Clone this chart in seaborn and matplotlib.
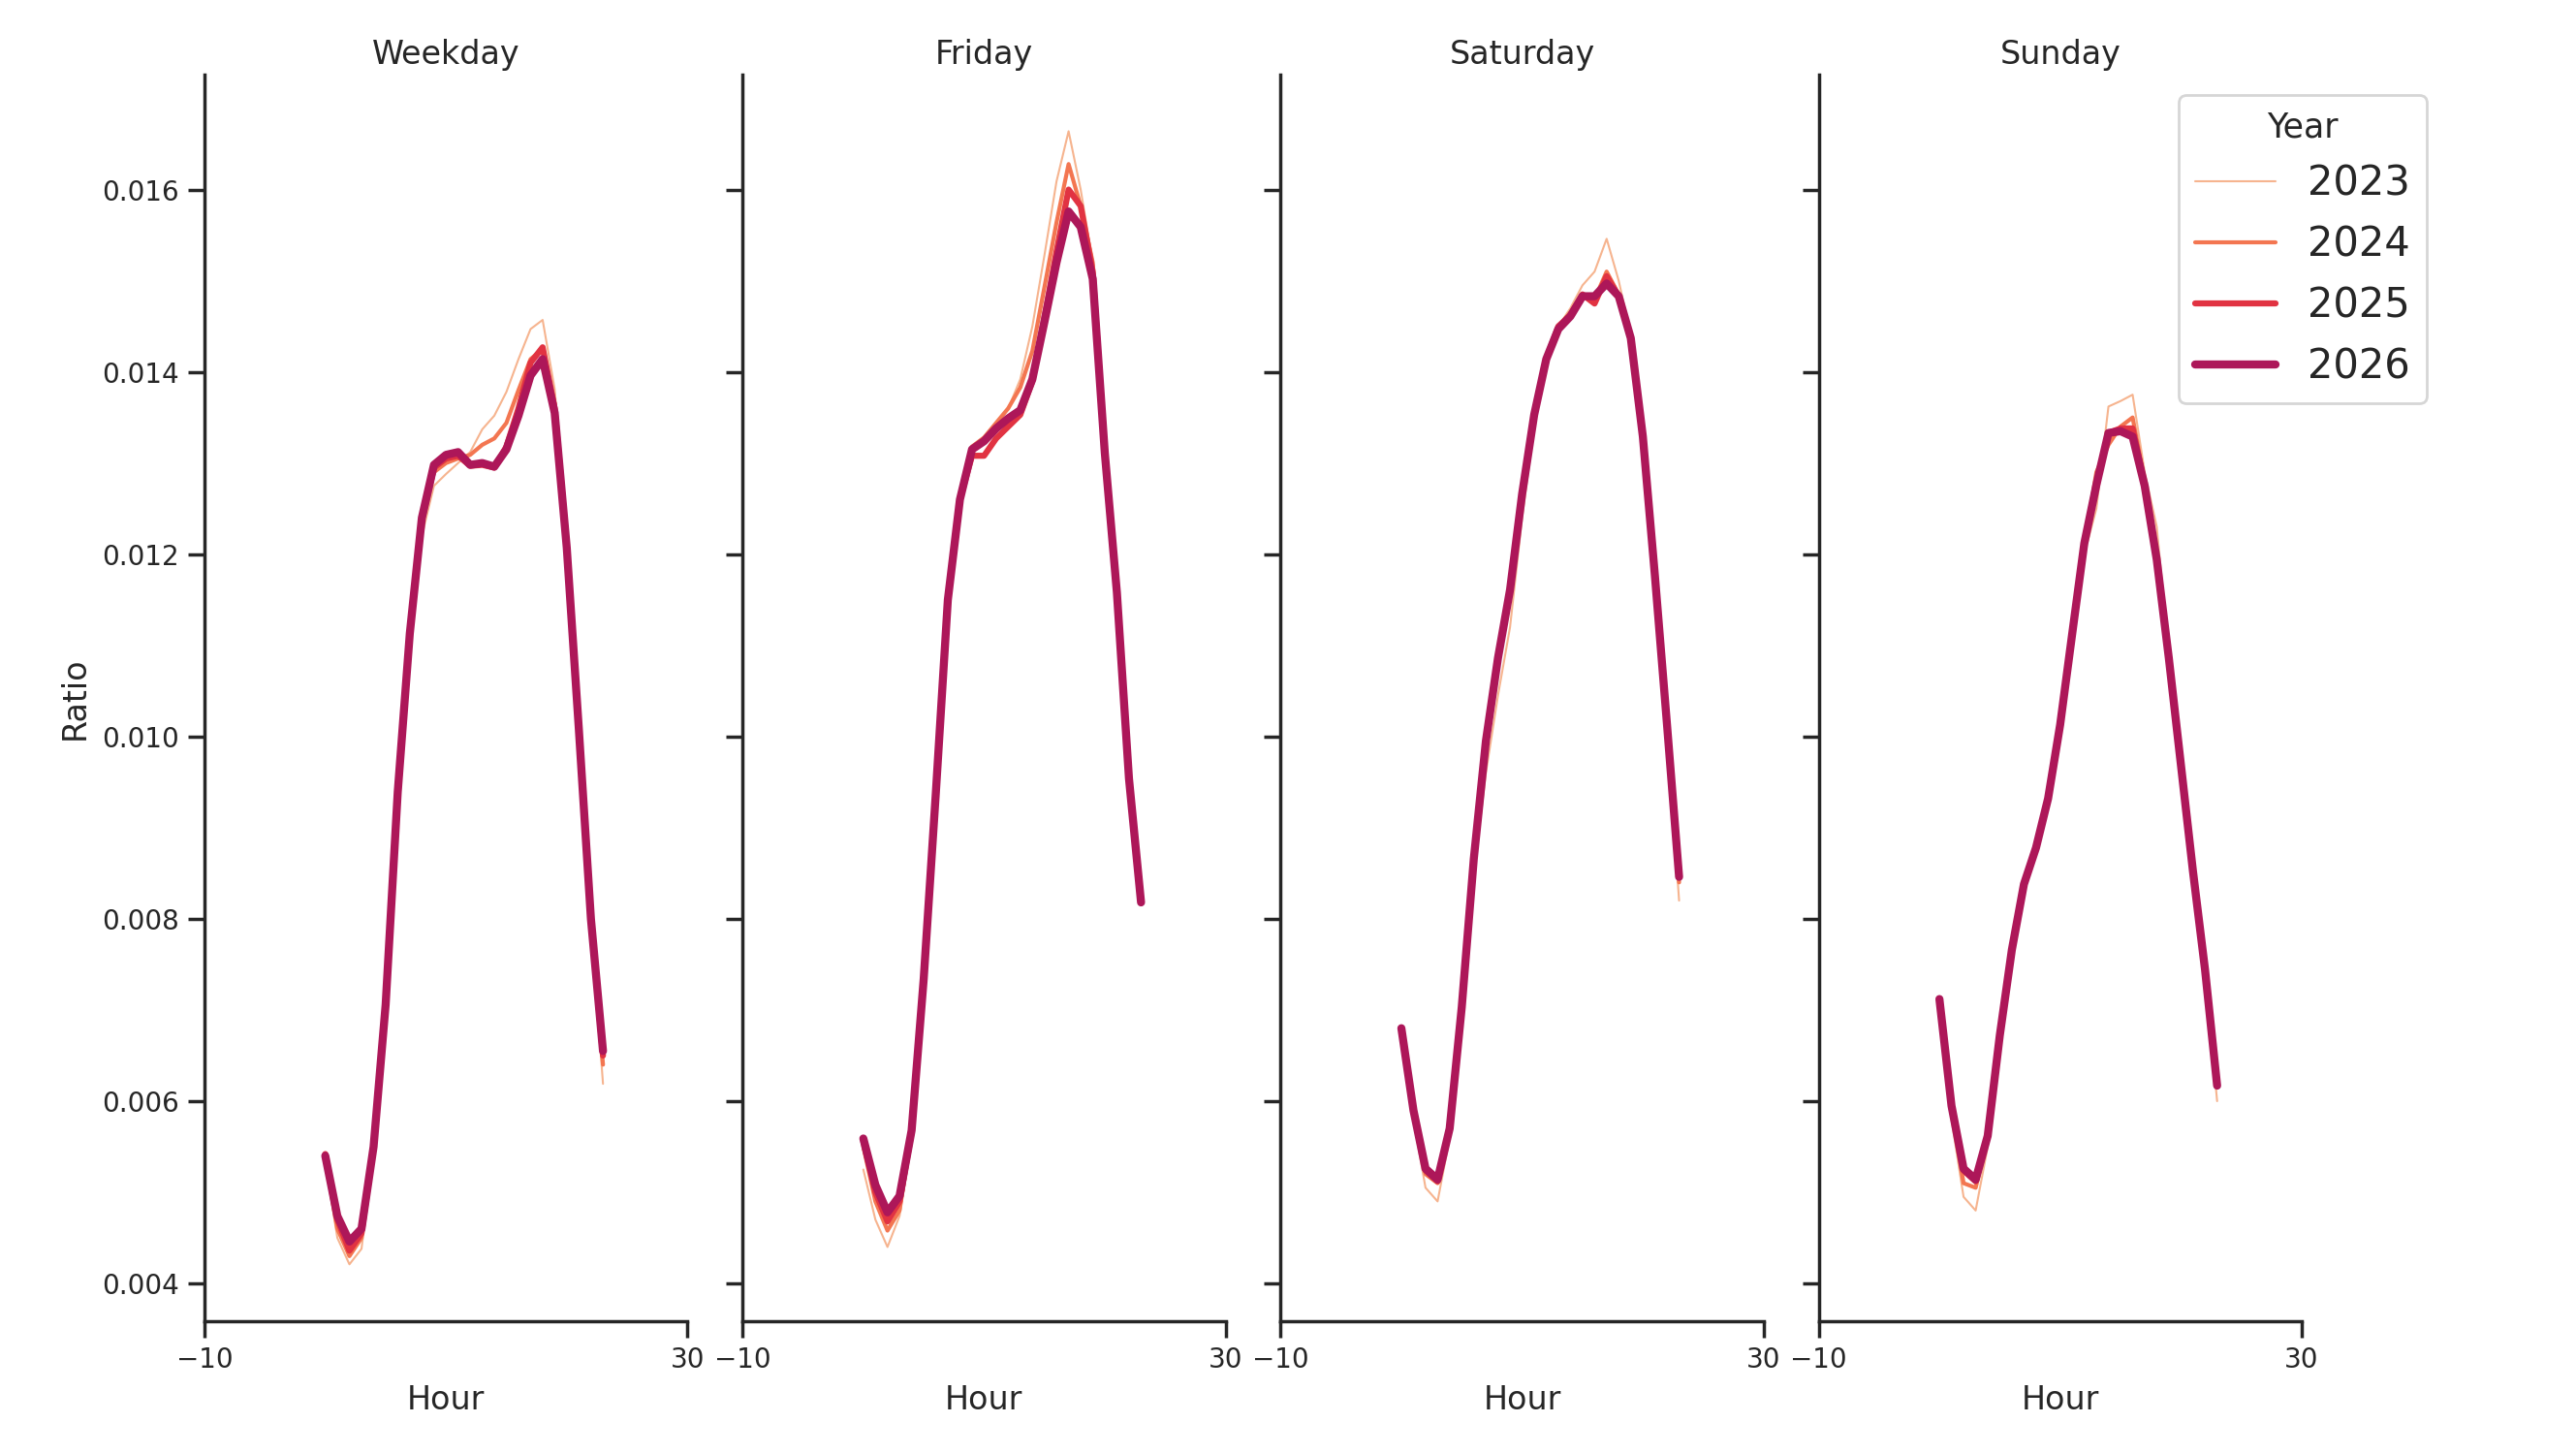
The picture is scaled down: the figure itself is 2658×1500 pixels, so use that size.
import pandas as pd
import seaborn as sns
import matplotlib.pyplot as plt

# hourly ratios, one list per day type and year
hours = list(range(24))
days = ["Weekday", "Friday", "Saturday", "Sunday"]
years = ["2023", "2024", "2025", "2026"]

weekday_2023 = [0.00533, 0.00450, 0.00421, 0.00438, 0.00545, 0.00700, 0.00925, 0.01100, 0.01220, 0.01275,
                0.01288, 0.01300, 0.01312, 0.01337, 0.01352, 0.01378, 0.01414, 0.01447, 0.01457, 0.01381,
                0.01214, 0.01010, 0.00800, 0.00619]
weekday_2024 = [0.00537, 0.00460, 0.00430, 0.00450, 0.00548, 0.00705, 0.00930, 0.01108, 0.01232, 0.01290,
                0.01300, 0.01305, 0.01309, 0.01320, 0.01327, 0.01344, 0.01380, 0.01414, 0.01425, 0.01365,
                0.01210, 0.01010, 0.00800, 0.00640]
weekday_2025 = [0.00542, 0.00470, 0.00436, 0.00455, 0.00550, 0.00708, 0.00935, 0.01112, 0.01238, 0.01295,
                0.01305, 0.01308, 0.01297, 0.01298, 0.01295, 0.01318, 0.01360, 0.01410, 0.01427, 0.01360,
                0.01210, 0.01010, 0.00800, 0.00650]
weekday_2026 = [0.00540, 0.00474, 0.00446, 0.00460, 0.00550, 0.00706, 0.00939, 0.01113, 0.01240, 0.01298,
                0.01309, 0.01312, 0.01298, 0.01300, 0.01296, 0.01315, 0.01352, 0.01396, 0.01414, 0.01355,
                0.01207, 0.01008, 0.00800, 0.00655]

friday_2023 = [0.00525, 0.00470, 0.00440, 0.00474, 0.00560, 0.00730, 0.00935, 0.01148, 0.01262, 0.01317,
               0.01328, 0.01340, 0.01360, 0.01392, 0.01450, 0.01528, 0.01609, 0.01664, 0.01600, 0.01520,
               0.01310, 0.01158, 0.00954, 0.00818]
friday_2024 = [0.00550, 0.00490, 0.00458, 0.00480, 0.00564, 0.00732, 0.00936, 0.01149, 0.01260, 0.01318,
               0.01328, 0.01344, 0.01360, 0.01383, 0.01423, 0.01493, 0.01564, 0.01628, 0.01582, 0.01520,
               0.01310, 0.01158, 0.00954, 0.00818]
friday_2025 = [0.00556, 0.00500, 0.00468, 0.00490, 0.00566, 0.00733, 0.00937, 0.01150, 0.01260, 0.01308,
               0.01308, 0.01327, 0.01340, 0.01353, 0.01390, 0.01460, 0.01532, 0.01600, 0.01582, 0.01510,
               0.01310, 0.01160, 0.00954, 0.00818]
friday_2026 = [0.00559, 0.00508, 0.00478, 0.00496, 0.00568, 0.00734, 0.00937, 0.01150, 0.01260, 0.01315,
               0.01324, 0.01338, 0.01349, 0.01358, 0.01392, 0.01455, 0.01520, 0.01576, 0.01559, 0.01502,
               0.01311, 0.01158, 0.00954, 0.00818]

saturday_2023 = [0.00680, 0.00580, 0.00505, 0.00490, 0.00560, 0.00690, 0.00850, 0.00960, 0.01045, 0.01120,
                 0.01240, 0.01340, 0.01410, 0.01450, 0.01470, 0.01495, 0.01510, 0.01546, 0.01500, 0.01440,
                 0.01330, 0.01180, 0.01010, 0.00820]
saturday_2024 = [0.00680, 0.00588, 0.00520, 0.00510, 0.00568, 0.00700, 0.00862, 0.00990, 0.01080, 0.01158,
                 0.01262, 0.01350, 0.01414, 0.01450, 0.01465, 0.01485, 0.01480, 0.01510, 0.01485, 0.01437,
                 0.01330, 0.01176, 0.01013, 0.00840]
saturday_2025 = [0.00680, 0.00590, 0.00524, 0.00512, 0.00570, 0.00702, 0.00865, 0.00993, 0.01085, 0.01160,
                 0.01265, 0.01352, 0.01414, 0.01450, 0.01462, 0.01485, 0.01475, 0.01505, 0.01483, 0.01437,
                 0.01329, 0.01176, 0.01013, 0.00850]
saturday_2026 = [0.00680, 0.00590, 0.00526, 0.00514, 0.00570, 0.00703, 0.00866, 0.00995, 0.01086, 0.01161,
                 0.01266, 0.01353, 0.01414, 0.01447, 0.01461, 0.01483, 0.01483, 0.01497, 0.01483, 0.01437,
                 0.01329, 0.01176, 0.01013, 0.00846]

sunday_2023 = [0.00710, 0.00580, 0.00495, 0.00480, 0.00550, 0.00660, 0.00760, 0.00835, 0.00876, 0.00930,
               0.01010, 0.01105, 0.01200, 0.01250, 0.01362, 0.01368, 0.01375, 0.01290, 0.01230, 0.01090,
               0.00970, 0.00850, 0.00740, 0.00600]
sunday_2024 = [0.00711, 0.00590, 0.00510, 0.00505, 0.00558, 0.00668, 0.00764, 0.00837, 0.00877, 0.00931,
               0.01012, 0.01110, 0.01208, 0.01290, 0.01320, 0.01340, 0.01350, 0.01280, 0.01200, 0.01088,
               0.00969, 0.00852, 0.00744, 0.00620]
sunday_2025 = [0.00712, 0.00594, 0.00524, 0.00512, 0.00561, 0.00671, 0.00766, 0.00838, 0.00878, 0.00932,
               0.01013, 0.01113, 0.01212, 0.01278, 0.01333, 0.01338, 0.01338, 0.01276, 0.01194, 0.01086,
               0.00969, 0.00852, 0.00744, 0.00618]
sunday_2026 = [0.00712, 0.00595, 0.00526, 0.00514, 0.00562, 0.00672, 0.00766, 0.00838, 0.00878, 0.00932,
               0.01013, 0.01113, 0.01212, 0.01276, 0.01333, 0.01335, 0.01329, 0.01275, 0.01194, 0.01086,
               0.00969, 0.00852, 0.00744, 0.00617]

series = {
    ("Weekday", "2023"): weekday_2023, ("Weekday", "2024"): weekday_2024,
    ("Weekday", "2025"): weekday_2025, ("Weekday", "2026"): weekday_2026,
    ("Friday", "2023"): friday_2023, ("Friday", "2024"): friday_2024,
    ("Friday", "2025"): friday_2025, ("Friday", "2026"): friday_2026,
    ("Saturday", "2023"): saturday_2023, ("Saturday", "2024"): saturday_2024,
    ("Saturday", "2025"): saturday_2025, ("Saturday", "2026"): saturday_2026,
    ("Sunday", "2023"): sunday_2023, ("Sunday", "2024"): sunday_2024,
    ("Sunday", "2025"): sunday_2025, ("Sunday", "2026"): sunday_2026,
}

rows = []
for (day, year), vals in series.items():
    for h, v in zip(hours, vals):
        rows.append({"Day": day, "Year": year, "Hour": h, "Ratio": v})
df = pd.DataFrame(rows)

sns.set_theme(style="ticks", context="notebook")
plt.rcParams["xtick.labelsize"] = 10
plt.rcParams["ytick.labelsize"] = 10
plt.rcParams["axes.titlepad"] = 4

pal = dict(zip(years, sns.color_palette("rocket_r", 6)[:4]))
widths = dict(zip(years, [0.75, 1.5, 2.25, 3.0]))

g = sns.relplot(data=df, x="Hour", y="Ratio", col="Day", col_order=days,
                hue="Year", hue_order=years, size="Year", size_order=years,
                sizes=widths, palette=pal, kind="line", height=6, aspect=0.5)
g.set_titles("{col_name}")
g.set(xlim=(-10, 30), xticks=[-10, 30])

g.figure.set_size_inches(13.29, 7.5)
g.figure.subplots_adjust(left=0.0794, right=0.8935, bottom=0.0915, top=0.9487, wspace=0.114)
sns.move_legend(g, "upper right", bbox_to_anchor=(0.942, 0.935), frameon=True,
                fontsize=15, title_fontsize=12.5, borderaxespad=0)

g.figure.savefig("out.png", dpi=200)
